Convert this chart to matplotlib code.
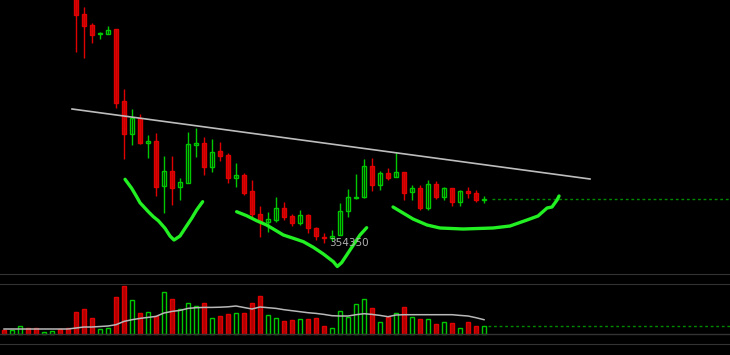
import numpy as np
import matplotlib
matplotlib.use("Agg")
import matplotlib.pyplot as plt

# price data (arbitrary price units, one candle per bar)
opens = [470, 462, 466, 472, 464, 455, 457, 459, 447, 420,
         386, 375, 366, 365.7, 370.7, 298.7, 265.7, 281.7, 257.3, 259,
         214.3, 229, 213.3, 216.7, 255.3, 256.7, 233.3, 248.7, 245, 221.7,
         225, 209, 186, 178.3, 180, 191.7, 184, 177.3, 185, 171.7,
         163.3, 161.7, 165, 189, 202.3, 203.3, 234.3, 215, 226.7, 222.7,
         228.3, 208, 212.3, 191.7, 216, 203.3, 211.7, 198.3, 209, 207.3,
         200]
highs = [474, 470, 476, 475, 467, 460, 462, 461, 450, 425,
         392.7, 376.7, 368.3, 374, 370.7, 310.7, 290.7, 285.7, 265, 266.7,
         244, 244, 221.7, 267.7, 271.7, 262.7, 260.7, 258.3, 246.7, 236.7,
         226.7, 220, 194, 188.3, 202.7, 198.3, 185.7, 190, 185.7, 173.3,
         166.7, 170, 196.7, 210.7, 225.7, 240.7, 241.7, 229.3, 231.7, 247.7,
         228.3, 215, 215, 220, 219.3, 213.3, 211.7, 210, 213.3, 210,
         204.3]
lows = [458, 459, 463, 460, 451, 453, 455, 444, 416, 348.3,
        341.7, 356.7, 360.7, 365.7, 291.7, 240.7, 255, 255.7, 241.7, 204,
        186.7, 195, 200, 216.7, 242.7, 225, 227.7, 239.3, 216.7, 213.3,
        205, 183.3, 163.3, 168.3, 178.3, 180, 174, 175, 167.3, 160,
        157.3, 159.3, 165, 183.3, 201, 201.7, 209.3, 210, 220, 222.7,
        200, 200, 190, 190, 201, 200, 194.3, 194.3, 201.7, 197.7,
        196.7]
closes = [462, 466, 472, 464, 455, 457, 459, 447, 420, 385.3,
          374.3, 365.3, 367, 369.7, 297.3, 265.7, 282.3, 257.3, 259.3, 213.3,
          229, 212.3, 218, 256, 256.7, 233.3, 248.3, 244.3, 221.7, 225,
          206.7, 186, 178.3, 181, 191.7, 183.3, 177.3, 184.7, 171.7, 164.3,
          162, 164.3, 189, 202.7, 203.3, 234.3, 215, 226.7, 222.3, 228.3,
          206.7, 211.7, 191.7, 216, 203.3, 211.7, 198.3, 209, 206.7, 200,
          200.7]
volumes = [4.3, 4.3, 8, 6, 6, 2, 3, 5, 6, 22,
           25, 16, 5, 6, 37, 48.3, 34, 21, 22, 17.7,
           42, 35, 24.7, 31, 28, 31, 16, 18, 20, 21,
           21, 31, 38, 19, 16, 13, 14, 15, 15, 16,
           8, 6, 23, 17, 30, 35, 26, 12, 17, 21,
           27, 17, 15, 15, 10, 12, 11, 6, 12, 8,
           8]
vol_ma = [5, 5, 5, 5, 5, 5, 5, 5, 5, 6,
          7, 7, 7.5, 8, 9.3, 12.6, 14.3, 15.6, 16.6, 17.6,
          21, 22.6, 23.6, 25.6, 26.3, 26.6, 26.6, 26.8, 27.2, 28,
          26.5, 25, 27, 26.3, 25.6, 24.3, 23.3, 22.3, 21.3, 20.6,
          19.6, 18.3, 18, 18, 19.3, 20.3, 19.6, 18.6, 17.3, 19,
          19.3, 19.3, 19.3, 19.3, 19.3, 19.3, 19.3, 18.6, 18, 16.3,
          14.3]

low_label = "354350"
low_idx = 40

# trend line (bar index, price)
trend_x = [8.5, 73.25]
trend_y = [291, 221]

# hand drawn marks (bar index, price)
curve1_x = [15.13, 15.96, 16.58, 17, 18.04, 18.67, 19.29, 20.13, 20.75, 21.25,
            22, 22.63, 23.46, 24.08, 24.83]
curve1_y = [220.7, 211.7, 203.3, 197.3, 188.3, 183.3, 179.3, 171.7, 164, 160,
            164, 171.7, 181.7, 190, 198.3]
curve2_x = [29.08, 30.33, 31.58, 32.83, 34.92, 36.17, 37.42, 38.67, 39.92, 41.17,
            41.66, 42.2, 42.84, 43.67, 44.5, 45.33]
curve2_y = [188.3, 184.3, 179.3, 175, 165, 161.7, 158.3, 152.7, 146, 138.3,
            133.5, 137.3, 145, 155, 165, 172.3]
curve3_x = [48.63, 49.88, 51.13, 52.88, 54.5, 57.38, 61.13, 63.25, 65.38, 66.75,
            67.88, 68.5, 69.13, 69.38]
curve3_y = [193, 187, 181, 175, 172, 171, 172, 174, 180, 184,
            192, 193, 200, 204]

RED_FACE = "#b00000"
RED_EDGE = "#e00000"
GREEN = "#00c800"
GRID = "#333333"

n = len(closes)
x = np.arange(n)
o = np.array(opens)
c = np.array(closes)
up = c >= o

fig = plt.figure(figsize=(7.3, 3.55), dpi=100, facecolor="black")
ax = fig.add_axes([0, 81 / 355, 1, 274 / 355], facecolor="black")
axv = fig.add_axes([0, 11 / 355, 1, 60 / 355], facecolor="black")

# candles
wick_col = [GREEN if u else RED_EDGE for u in up]
ax.vlines(x, lows, highs, colors=wick_col, linewidth=1)
bottoms = np.minimum(o, c)
heights = np.maximum(np.abs(c - o), 1.0)
ax.bar(x[up], heights[up], bottom=bottoms[up], width=0.55,
       facecolor="black", edgecolor=GREEN, linewidth=1)
ax.bar(x[~up], heights[~up], bottom=bottoms[~up], width=0.55,
       facecolor=RED_FACE, edgecolor=RED_EDGE, linewidth=1)

ax.plot(trend_x, trend_y, color="#bdbdbd", linewidth=1.2)
ax.hlines(closes[-1], n, 92, colors="#008a00", linewidth=1, linestyles=(0, (2, 2)))

for cx, cy in [(curve1_x, curve1_y), (curve2_x, curve2_y), (curve3_x, curve3_y)]:
    ax.plot(cx, cy, color="#22f022", linewidth=2.4, solid_capstyle="round",
            solid_joinstyle="round")

ax.text(low_idx + 0.7, lows[low_idx], low_label, color="#b0b0b0", fontsize=7.5,
        ha="left", va="center")

ax.set_xlim(-0.5, 90.75)
ax.set_ylim(126, 400)

# volume
v = np.array(volumes)
axv.bar(x[up], v[up], width=0.55, facecolor="black", edgecolor=GREEN, linewidth=1)
axv.bar(x[~up], v[~up], width=0.55, facecolor=RED_FACE, edgecolor=RED_EDGE, linewidth=1)
axv.plot(x, vol_ma, color="#b8b8b8", linewidth=1.1)
axv.hlines(volumes[-1], n - 0.5, 92, colors="#008a00", linewidth=1, linestyles=(0, (2, 2)))
axv.axhline(0, color=GRID, linewidth=1)
axv.set_xlim(-0.5, 90.75)
axv.set_ylim(-10, 50)

for a in (ax, axv):
    a.set_xticks([])
    a.set_yticks([])
    for s in ("left", "right"):
        a.spines[s].set_visible(False)
ax.spines["top"].set_visible(False)
ax.spines["bottom"].set_color(GRID)
axv.spines["top"].set_color(GRID)
axv.spines["bottom"].set_color(GRID)

fig.savefig("out.png", dpi=100, facecolor="black")
